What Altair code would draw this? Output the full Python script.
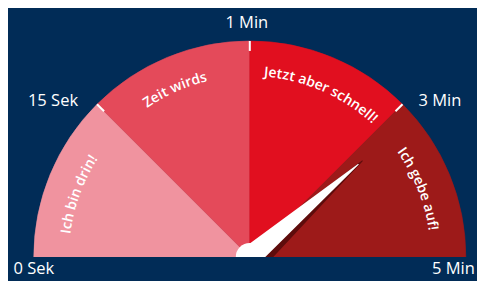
import math
import altair as alt
import pandas as pd

# ---------------- data ----------------
segment_labels = ["Ich bin drin!", "Zeit wirds", "Jetzt aber schnell!", "Ich gebe auf!"]
segment_start = [0, 1, 2, 3]
segment_end = [1, 2, 3, 4]
boundary_labels = ["0 Sek", "15 Sek", "1 Min", "3 Min", "5 Min"]
boundary_values = [0, 1, 2, 3, 4]
tick_values = [1, 2, 3]
needle_value = 3.1

# ---------------- style ----------------
BG = "#012c57"
segment_colors = ["#f0939f", "#e44a5a", "#e10f1f", "#9d1a19"]
SHADOW = "#5e0c0c"
W, H = 469, 273
CX, CY = 241.8, 249.0
R = 216.0
TEXT_R = 185.0
SEG_FS = 14
SEG_LS = 0.0
text_nudge = [2.5, 1.5, -1.0, -0.5]  # degrees
label_style = {
    "0 Sek": ("center", 0, 17),
    "15 Sek": ("right", -19, 2),
    "1 Min": ("center", -3, -13),
    "3 Min": ("left", 16, 2),
    "5 Min": ("right", 9, 17),
}
FONT = "Open Sans"

# approximate advance widths (em) for a bold sans
cw = {" ": .26, "!": .29, "I": .35, "J": .32, "Z": .56, "a": .59, "b": .63, "c": .51,
      "d": .63, "e": .59, "f": .40, "g": .56, "h": .65, "i": .30, "l": .30, "n": .65,
      "r": .45, "s": .50, "t": .43, "u": .65, "w": .85, "z": .49}

x_scale = alt.Scale(domain=[-CX / R, (W - CX) / R], nice=False, zero=False)
y_scale = alt.Scale(domain=[-(H - CY) / R, CY / R], nice=False, zero=False)
theta_scale = alt.Scale(domain=[0, 4], range=[-math.pi / 2, math.pi / 2])


def ang(v):
    return math.radians(180 - 45 * v)


X = lambda f: alt.X(f, scale=x_scale, axis=None)
Y = lambda f: alt.Y(f, scale=y_scale, axis=None)

# ---------------- segments ----------------
seg_df = pd.DataFrame({"label": segment_labels, "start": segment_start, "end": segment_end})
col_scale = alt.Scale(domain=segment_labels, range=segment_colors)
arcs = alt.Chart(seg_df).mark_arc(outerRadius=R, innerRadius=0, strokeWidth=0.6).encode(
    theta=alt.Theta("start:Q", scale=theta_scale),
    theta2="end:Q",
    color=alt.Color("label:N", scale=col_scale, legend=None),
    stroke=alt.Stroke("label:N", scale=col_scale, legend=None),
    x=alt.value(CX),
    y=alt.value(CY),
)

# ---------------- ticks ----------------
tick_rows = []
for v in tick_values:
    a = ang(v)
    r0 = 0.954
    tick_rows.append({"x": r0 * math.cos(a), "y": r0 * math.sin(a),
                      "x2": math.cos(a), "y2": math.sin(a)})
ticks = alt.Chart(pd.DataFrame(tick_rows)).mark_rule(color="white", strokeWidth=2).encode(
    x=X("x:Q"), y=Y("y:Q"), x2="x2:Q", y2="y2:Q")

# ---------------- curved segment text ----------------
char_rows = []
for k, lab in enumerate(segment_labels):
    mid = 180 - 45 * (segment_start[k] + 0.5) + text_nudge[k]
    widths = [cw.get(ch, .58) * SEG_FS + SEG_LS for ch in lab]
    s = -sum(widths) / 2
    for ch, w in zip(lab, widths):
        c = s + w / 2
        th = mid - math.degrees(c / TEXT_R)
        s += w
        if ch == " ":
            continue
        tr = math.radians(th)
        char_rows.append({"ch": ch, "x": TEXT_R * math.cos(tr) / R,
                          "y": TEXT_R * math.sin(tr) / R, "rot": (90 - th) % 360})
seg_text = alt.Chart(pd.DataFrame(char_rows)).mark_text(
    font=FONT, fontSize=SEG_FS, fontWeight=600, color="white",
    align="center", baseline="middle").encode(
    x=X("x:Q"), y=Y("y:Q"), text="ch:N", angle=alt.Angle("rot:Q", scale=None))

# ---------------- needle ----------------
a = ang(needle_value)
white_df = pd.DataFrame({"i": [0, 1], "x": [0, 0.66 * math.cos(a)],
                         "y": [0, 0.66 * math.sin(a)], "w": [22, 1]})
shadow_df = pd.DataFrame({"i": [0, 1], "x": [0.03, 0.685 * math.cos(a)],
                          "y": [0, 0.685 * math.sin(a)], "w": [25, 1]})
shadow = alt.Chart(shadow_df).mark_trail(color=SHADOW).encode(
    x=X("x:Q"), y=Y("y:Q"), size=alt.Size("w:Q", scale=None), order="i:Q")
needle = alt.Chart(white_df).mark_trail(color="white").encode(
    x=X("x:Q"), y=Y("y:Q"), size=alt.Size("w:Q", scale=None), order="i:Q")
cap = alt.Chart(pd.DataFrame({"a": [0], "b": [4]})).mark_arc(
    outerRadius=14, color="white").encode(
    theta=alt.Theta("a:Q", scale=theta_scale), theta2="b:Q",
    x=alt.value(CX), y=alt.value(CY))

mask = alt.Chart(pd.DataFrame({"x": [-1.3], "x2": [1.3], "y": [0], "y2": [-0.3]})).mark_rect(
    color=BG).encode(x=X("x:Q"), x2="x2:Q", y=Y("y:Q"), y2="y2:Q")

# ---------------- boundary labels ----------------
lab_layers = []
for lab, v in zip(boundary_labels, boundary_values):
    al, dx, dy = label_style[lab]
    d = pd.DataFrame({"t": [lab], "x": [math.cos(ang(v))], "y": [math.sin(ang(v))]})
    lab_layers.append(alt.Chart(d).mark_text(
        font=FONT, fontSize=16.5, color="white", align=al, baseline="alphabetic",
        dx=dx, dy=dy).encode(x=X("x:Q"), y=Y("y:Q"), text="t:N"))

chart = alt.layer(arcs, ticks, seg_text, shadow, needle, cap, mask, *lab_layers).properties(
    width=W, height=H, padding=0, autosize="none", background=BG
).configure_view(stroke=None)

chart.save("out.html", embed_options={"renderer": "svg", "actions": False})
